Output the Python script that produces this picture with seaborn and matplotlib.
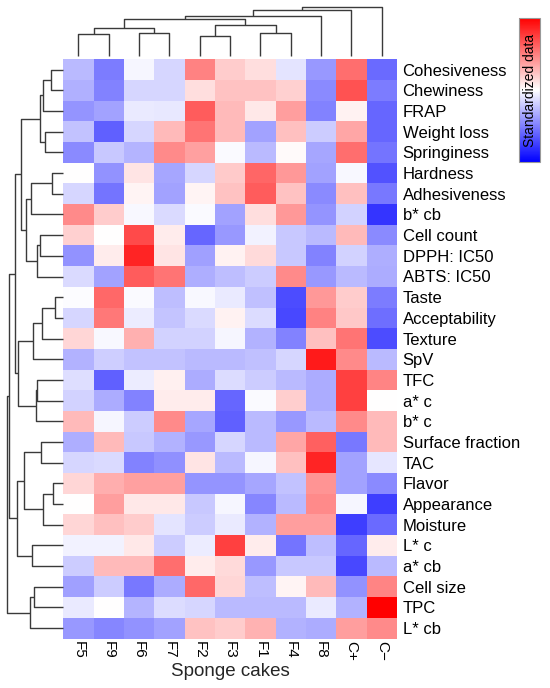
import numpy as np
import pandas as pd
import matplotlib
matplotlib.use("Agg")
import matplotlib.pyplot as plt
import seaborn as sns

# ---------------- data ----------------
samples = ["F5", "F9", "F6", "F7", "F2", "F3", "F1", "F4", "F8", "C+", "C\u2212"]
attributes = ["Cohesiveness", "Chewiness", "FRAP", "Weight loss", "Springiness",
              "Hardness", "Adhesiveness", "b* cb", "Cell count", "DPPH: IC50",
              "ABTS: IC50", "Taste", "Acceptability", "Texture", "SpV", "TFC",
              "a* c", "b* c", "Surface fraction", "TAC", "Flavor", "Appearance",
              "Moisture", "L* c", "a* cb", "Cell size", "TPC", "L* cb"]

#                F5     F9     F6     F7     F2     F3     F1     F4     F8     C+     C-
cohesiveness = [-0.50, -1.15, 0.15, -0.20, 1.60, 0.80, 0.60, -0.05, -0.85, 1.80, -1.35]
chewiness    = [-0.60, -1.10, -0.18, -0.20, 0.60, 0.90, 0.90, 0.75, -1.00, 2.10, -1.15]
frap         = [-0.90, -0.75, 0.02, 0.00, 2.00, 1.00, 0.50, 1.30, -1.10, 0.40, -1.40]
weight_loss  = [-0.40, -1.45, -0.18, 1.00, 1.75, 1.00, -0.75, 0.93, -0.30, 1.20, -1.40]
springiness  = [-1.00, -0.35, -0.55, 1.50, 1.27, 0.20, -0.50, 0.30, -0.70, 1.80, -1.25]
hardness     = [0.27, -0.93, 0.55, -0.70, -0.18, 0.82, 1.90, 1.35, -0.75, 0.17, -1.60]
adhesiveness = [-0.20, -1.25, 0.37, -0.75, 0.37, 0.90, 2.00, 0.90, -1.00, 0.93, -1.20]
b_cb         = [1.50, 0.80, 0.17, -0.15, 0.20, -0.75, 0.60, 1.35, -0.90, -0.23, -1.93]
cell_count   = [0.75, 0.25, 2.20, 0.45, -1.40, -0.85, 0.10, -0.35, -0.50, 1.00, -1.00]
dpph_ic50    = [-0.93, 0.45, 2.60, 0.55, -0.78, 0.40, 0.65, -0.35, -1.10, -0.23, -0.63]
abts_ic50    = [-0.15, -0.75, 2.00, 1.75, -0.63, -0.45, -0.30, 1.50, -0.85, -0.50, -0.65]
taste        = [0.22, 1.87, 0.20, -0.45, 0.17, 0.02, -0.42, -1.67, 1.35, 0.80, -1.15]
acceptability = [-0.20, 1.70, 0.05, -0.38, -0.15, 0.40, -0.12, -1.72, 1.60, 0.85, -1.30]
texture      = [0.70, 0.17, 1.10, -0.23, -0.23, 0.15, -0.58, -1.10, 0.93, 1.75, -1.67]
spv          = [-0.58, -0.27, -0.40, -0.40, -0.50, -0.50, -0.42, -0.18, 2.70, 1.50, -0.50]
tfc          = [-0.10, -1.45, 0.05, 0.42, -0.65, -0.12, -0.30, -0.50, -0.65, 2.30, 1.57]
a_c          = [-0.23, -0.65, -1.10, 0.45, 0.45, -1.40, 0.20, 0.78, -0.65, 2.30, 0.25]
b_c          = [1.00, 0.15, -0.30, 1.50, -0.70, -1.45, -0.50, -0.85, -0.50, 1.50, 1.00]
surface_fraction = [-0.63, 1.00, -0.35, -0.58, -0.85, -0.18, -0.50, 1.20, 1.95, -1.20, 1.00]
tac          = [-0.20, -0.15, -1.10, -0.95, 0.55, -0.50, 0.15, 0.93, 2.60, -0.75, -0.02]
flavor       = [0.70, 1.13, 1.27, 1.27, -0.90, -0.90, -0.70, -0.40, 1.40, -0.75, -1.00]
appearance   = [0.25, 1.30, 0.50, 0.50, -0.35, 0.15, -1.05, -0.50, 1.50, 0.15, -1.83]
moisture     = [0.70, 0.93, 0.80, -0.05, -0.30, 0.02, -0.58, 1.30, 1.30, -1.83, -1.35]
l_c          = [0.12, 0.12, 0.50, -0.30, 0.05, 2.30, 0.45, -1.25, -0.45, -1.40, 0.45]
a_cb         = [-0.30, 1.00, 1.00, 1.80, 0.45, 0.65, -0.85, -0.35, -0.35, -1.72, -0.50]
cell_size    = [-0.78, -0.30, -1.20, -0.65, 1.87, 0.70, -0.45, 0.37, 1.00, -0.93, 1.57]
tpc          = [0.03, 0.27, -0.55, -0.12, -0.18, -0.50, -0.50, -0.50, 0.02, -0.58, 3.00]
l_cb         = [-0.85, -1.05, -0.93, -0.75, 0.90, 0.80, 1.07, -0.58, -0.65, 1.30, 1.50]

rows = [cohesiveness, chewiness, frap, weight_loss, springiness, hardness,
        adhesiveness, b_cb, cell_count, dpph_ic50, abts_ic50, taste,
        acceptability, texture, spv, tfc, a_c, b_c, surface_fraction, tac,
        flavor, appearance, moisture, l_c, a_cb, cell_size, tpc, l_cb]

# hierarchical merges (child_a, child_b, height); ids >= n are earlier merges
col_merges = [(0, 1, 65), (2, 3, 68), (11, 12, 83), (4, 5, 61), (6, 7, 70),
              (14, 15, 92), (13, 16, 111), (17, 8, 121), (18, 9, 137),
              (19, 10, 146)]
row_merges = [(0, 1, 37), (28, 2, 60), (3, 4, 55), (29, 30, 70), (5, 6, 35),
              (32, 7, 97), (8, 9, 70), (34, 10, 80), (33, 35, 112),
              (31, 36, 128), (11, 12, 25), (38, 13, 65), (39, 14, 90),
              (15, 16, 80), (41, 17, 83), (40, 42, 135), (37, 43, 145),
              (18, 19, 68), (20, 21, 30), (46, 22, 60), (45, 47, 117),
              (23, 24, 93), (48, 49, 140), (44, 50, 162), (25, 26, 87),
              (52, 27, 100), (51, 53, 168)]

df = pd.DataFrame(rows, index=attributes, columns=samples)

# ---------------- style ----------------
sns.set_style("white")
plt.rcParams["font.family"] = ["Liberation Sans", "DejaVu Sans"]

W, H = 550, 688
fig = plt.figure(figsize=(W / 100, H / 100), dpi=100)


def frac(x0, y0, x1, y1):
    return [x0 / W, 1 - y1 / H, (x1 - x0) / W, (y1 - y0) / H]


hm_l, hm_r, hm_t, hm_b = 63.3, 397.0, 59.3, 638.5
ax = fig.add_axes(frac(hm_l, hm_t, hm_r, hm_b))
cax = fig.add_axes(frac(519, 18, 540, 162))
ax_row = fig.add_axes(frac(7.3, hm_t, hm_l, hm_b))
ax_col = fig.add_axes(frac(hm_l, 7.3, hm_r, 56.0))

sns.heatmap(df, ax=ax, cmap="bwr", vmin=-2.5, vmax=3.0, cbar_ax=cax,
            xticklabels=samples, yticklabels=attributes)

ax.yaxis.tick_right()
ax.set_yticklabels(attributes, rotation=0, fontsize=12, color="black")
ax.set_xticklabels(samples, rotation=270, fontsize=11, color="black")
ax.tick_params(axis="both", length=0)
ax.tick_params(axis="y", pad=4)
ax.tick_params(axis="x", pad=2)
ax.set_xlabel("Sponge cakes", fontsize=13.5, labelpad=1)
ax.set_ylabel("")

# colorbar
cb = ax.collections[0].colorbar
cb.set_ticks([])
cb.outline.set_edgecolor("#999999")
cb.outline.set_linewidth(0.8)
cax.text(0.5, 0.5, "Standardized data", rotation=90, ha="center", va="center",
         transform=cax.transAxes, fontsize=10, color="black")


# ---------------- dendrograms ----------------
def draw_dendrogram(axd, merges, n, orient):
    pos = {i: i + 0.5 for i in range(n)}
    hgt = {i: 0.0 for i in range(n)}
    for k, (a, b, h) in enumerate(merges):
        cid = n + k
        pa, pb, ha, hb = pos[a], pos[b], hgt[a], hgt[b]
        xs = [pa, pa, pb, pb]
        ys = [ha, h, h, hb]
        if orient == "top":
            axd.plot(xs, ys, color="#3a3a3a", lw=1.0, clip_on=False,
                     solid_capstyle="butt")
        else:
            axd.plot(ys, xs, color="#3a3a3a", lw=1.0, clip_on=False,
                     solid_capstyle="butt")
        pos[cid] = (pa + pb) / 2
        hgt[cid] = h
    return max(m[2] for m in merges)


top_h = draw_dendrogram(ax_col, col_merges, len(samples), "top")
ax_col.set_xlim(0, len(samples))
ax_col.set_ylim(0, top_h)
ax_col.axis("off")

left_h = draw_dendrogram(ax_row, row_merges, len(attributes), "left")
ax_row.set_ylim(len(attributes), 0)
ax_row.set_xlim(left_h, 0)
ax_row.axis("off")

fig.savefig("out.png", dpi=100)
